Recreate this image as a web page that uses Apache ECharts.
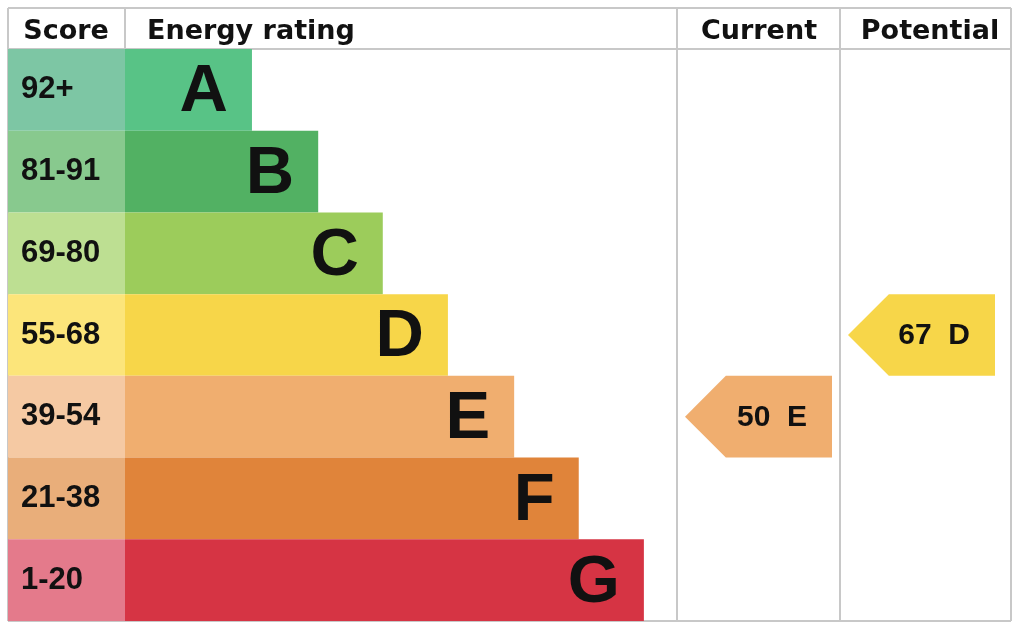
<!DOCTYPE html>
<html>
<head>
<meta charset="utf-8">
<script src="https://cdn.jsdelivr.net/npm/echarts@6/dist/echarts.min.js"></script>
<style>
html,body{margin:0;padding:0;background:#fff;}
#chart{width:1024px;height:626px;}
</style>
</head>
<body>
<div id="chart"></div>
<script>
// ---- data ----
const bands = ['A', 'B', 'C', 'D', 'E', 'F', 'G'];
const scoreLabels = ['92+', '81-91', '69-80', '55-68', '39-54', '21-38', '1-20'];
const bandMinScores = [92, 81, 69, 55, 39, 21, 1];
const ratingBarLengths = [23, 35, 46.7, 58.5, 70.5, 82.2, 94]; // % of column width
const scoreColors = ['#7dc6a4', '#88c98e', '#bddf92', '#fce57a', '#f5c9a3', '#e9ae7a', '#e47a8b'];
const ratingColors = ['#58c386', '#52b163', '#9ccc5b', '#f7d649', '#f0ae6f', '#e0843a', '#d63444'];
const currentScore = 50;
const potentialScore = 67;
const headers = ['Score', 'Energy rating', 'Current', 'Potential'];

function bandIndex(score) {
  for (let i = 0; i < bandMinScores.length; i++) if (score >= bandMinScores[i]) return i;
  return bandMinScores.length - 1;
}

const chart = echarts.init(document.getElementById('chart'), null, {renderer: 'canvas'});
const FONT = 'Liberation Sans, Arial, Helvetica, sans-serif';
const LINE = '#c8c8c8';

const TOP = 49, HEIGHT = 572;
const grids = [
  {left: 8, top: TOP, width: 117, height: HEIGHT},
  {left: 125, top: TOP, width: 552, height: HEIGHT},
  {left: 677, top: TOP, width: 163, height: HEIGHT},
  {left: 840, top: TOP, width: 171, height: HEIGHT}
];

const xAxes = [
  {gridIndex: 0, type: 'value', min: 0, max: 1, show: false},
  {gridIndex: 1, type: 'value', min: 0, max: 100, show: false},
  {gridIndex: 2, type: 'value', min: 0, max: 1, show: false},
  {gridIndex: 3, type: 'value', min: 0, max: 1, show: false}
];
const yAxes = grids.map((g, i) => ({
  gridIndex: i, type: 'category', data: bands, inverse: true, show: false,
  boundaryGap: true
}));

function arrowRender(params, api) {
  const cs = params.coordSys;
  const row = api.value(1);
  const cy = api.coord([0, row])[1];
  const band = api.size([0, 1])[1];
  const left = cs.x + 8;
  const right = left + 147;
  const head = band / 2;
  const top = cy - band / 2, bottom = cy + band / 2;
  return {
    type: 'group',
    children: [
      {
        type: 'polygon',
        shape: {points: [[left, cy], [left + head, top], [right, top], [right, bottom], [left + head, bottom]]},
        style: {fill: api.visual('color')}
      },
      {
        type: 'text',
        x: right - 25, y: cy + 1,
        style: {
          text: api.value(2) + '  ' + bands[row],
          fill: '#111', font: 'bold 30px ' + FONT,
          textAlign: 'right', textVerticalAlign: 'middle'
        }
      }
    ]
  };
}

const ci = bandIndex(currentScore), pi = bandIndex(potentialScore);

const hdrFont = 'bold 27px DejaVu Sans, Liberation Sans, sans-serif';
const lines = [
  [8, 8, 1011, 8], [8, 49, 1011, 49], [8, 621, 1011, 621],
  [8, 8, 8, 621], [125, 8, 125, 49], [677, 8, 677, 621], [840, 8, 840, 621], [1011, 8, 1011, 621]
];

const option = {
  animation: false,
  backgroundColor: '#fff',
  grid: grids,
  xAxis: xAxes,
  yAxis: yAxes,
  graphic: [
    ...lines.map(l => ({type: 'line', z: 1, shape: {x1: l[0], y1: l[1], x2: l[2], y2: l[3]}, style: {stroke: LINE, lineWidth: 2}})),
    {type: 'text', x: 66, y: 32, z: 10, style: {text: headers[0], font: hdrFont, fill: '#111', textAlign: 'center', textVerticalAlign: 'middle'}},
    {type: 'text', x: 147, y: 32, z: 10, style: {text: headers[1], font: hdrFont, fill: '#111', textAlign: 'left', textVerticalAlign: 'middle'}},
    {type: 'text', x: 759, y: 32, z: 10, style: {text: headers[2], font: hdrFont, fill: '#111', textAlign: 'center', textVerticalAlign: 'middle'}},
    {type: 'text', x: 930, y: 32, z: 10, style: {text: headers[3], font: hdrFont, fill: '#111', textAlign: 'center', textVerticalAlign: 'middle'}}
  ],
  series: [
    {
      type: 'bar', xAxisIndex: 0, yAxisIndex: 0, z: 3,
      barWidth: '100%',
      data: scoreLabels.map((s, i) => ({value: 1, itemStyle: {color: scoreColors[i]}})),
      label: {
        show: true, position: 'insideLeft', distance: 13,
        formatter: p => scoreLabels[p.dataIndex],
        color: '#111', fontSize: 31, fontWeight: 'bold', fontFamily: FONT
      }
    },
    {
      type: 'bar', xAxisIndex: 1, yAxisIndex: 1, z: 3,
      barWidth: '100%',
      data: ratingBarLengths.map((v, i) => ({value: v, itemStyle: {color: ratingColors[i]}})),
      label: {
        show: true, position: 'insideRight', distance: 24, offset: [0, 3],
        formatter: p => bands[p.dataIndex],
        color: '#111', fontSize: 67, fontWeight: 'bold', fontFamily: FONT
      }
    },
    {
      type: 'custom', xAxisIndex: 2, yAxisIndex: 2, z: 3,
      renderItem: arrowRender,
      itemStyle: {color: ratingColors[ci]},
      data: [[0, ci, currentScore]]
    },
    {
      type: 'custom', xAxisIndex: 3, yAxisIndex: 3, z: 3,
      renderItem: arrowRender,
      itemStyle: {color: ratingColors[pi]},
      data: [[0, pi, potentialScore]]
    }
  ]
};
chart.setOption(option);
</script>
</body>
</html>
